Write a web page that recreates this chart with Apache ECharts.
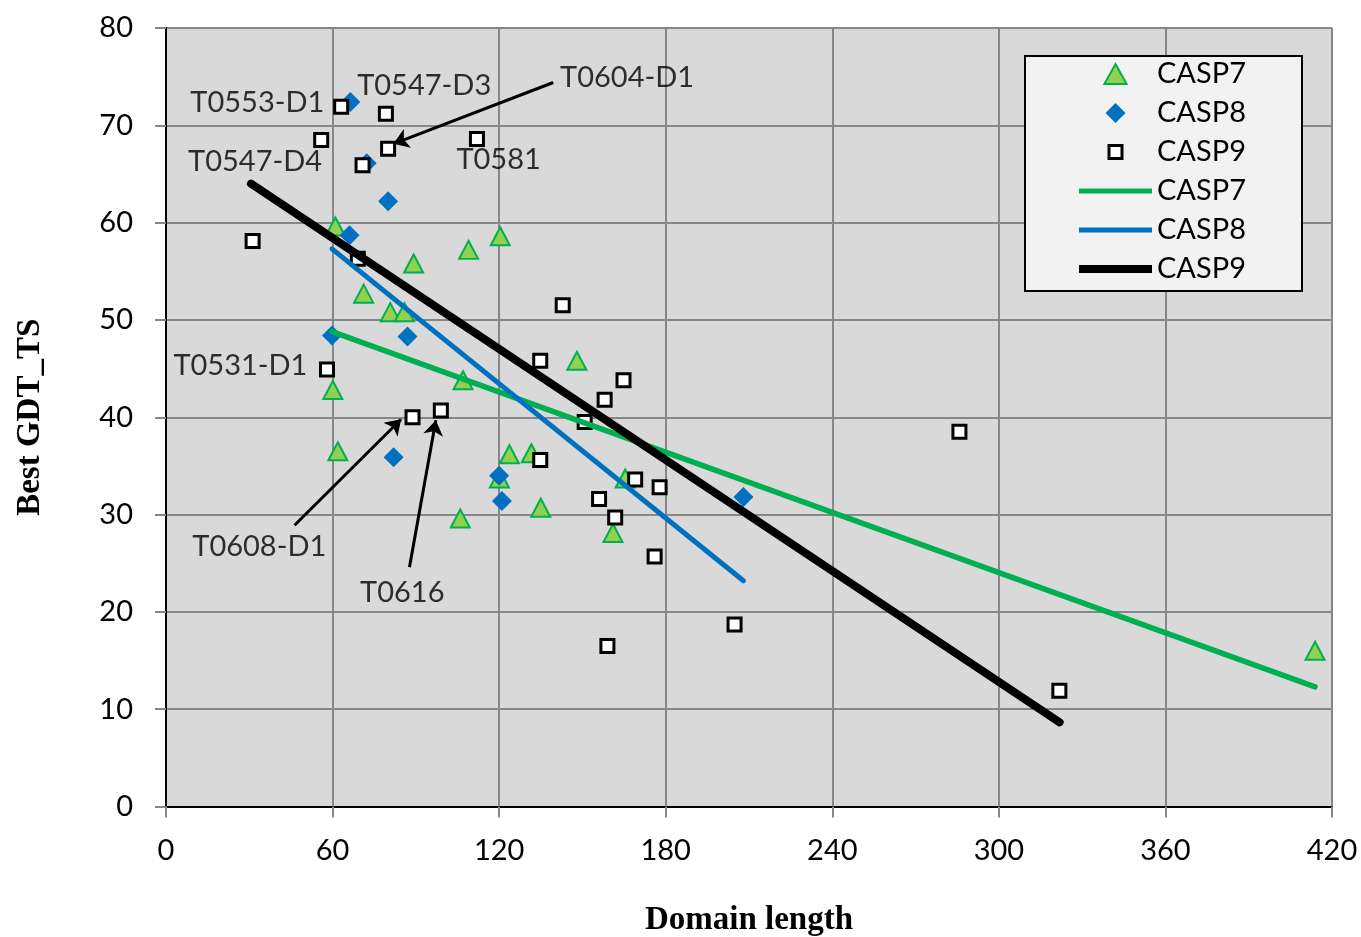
<!DOCTYPE html>
<html>
<head>
<meta charset="utf-8">
<script src="https://cdn.jsdelivr.net/npm/echarts@6/dist/echarts.min.js"></script>
<style>
  html, body { margin: 0; padding: 0; background: #fff; }
  #chart { width: 1361px; height: 937px; }
</style>
</head>
<body>
<div id="chart"></div>
<script>
// scatter points [domain length, best GDT_TS]
const casp7 = [
  [61, 59.6], [109, 57.2], [120.4, 58.6], [89.2, 55.8], [71.2, 52.7],
  [80.8, 50.8], [85.9, 50.8], [60.1, 42.8], [61.9, 36.5], [107, 43.8],
  [148, 45.8], [123.7, 36.2], [131.6, 36.3], [120.1, 33.7], [135, 30.7],
  [106, 29.6], [165.4, 33.7], [161, 28.1], [413.9, 16.0]
];
const casp8 = [
  [66.4, 72.4], [72.3, 66.1], [80, 62.2], [66.1, 58.7], [59.8, 48.4],
  [87, 48.3], [82, 35.9], [120, 34.0], [121, 31.4], [208, 31.8]
];
const casp9 = [
  [31.2, 58.1], [55.9, 68.5], [63.1, 71.9], [79.2, 71.2], [80, 67.6],
  [70.8, 65.9], [112, 68.6], [69.1, 56.3], [142.9, 51.5], [134.8, 45.8],
  [58, 44.9], [88.8, 40.0], [99, 40.7], [158, 41.8], [164.8, 43.8],
  [150.8, 39.5], [134.8, 35.6], [169, 33.6], [177.8, 32.8], [156, 31.6],
  [161.8, 29.7], [176, 25.7], [204.8, 18.7], [159, 16.5], [285.8, 38.5],
  [321.8, 11.9]
];

// trend lines (end points)
const fit7 = [[59.8, 48.8], [413.9, 12.3]];
const fit8 = [[59.8, 57.3], [208.0, 23.2]];
const fit9 = [[30.6, 64.0], [321.9, 8.65]];

// target labels [x, y, text] and arrows [from, to]
const labels = [
  [32.9, 72.3, 'T0553-D1'],
  [93.0, 74.1, 'T0547-D3'],
  [166.1, 74.9, 'T0604-D1'],
  [32.1, 66.3, 'T0547-D4'],
  [119.8, 66.5, 'T0581'],
  [26.8, 45.3, 'T0531-D1'],
  [33.6, 26.7, 'T0608-D1'],
  [85.1, 22.0, 'T0616']
];
const arrows = [
  [[139.5, 74.4], [81.9, 68.1]],
  [[46.3, 28.9], [84.7, 39.8]],
  [[87.7, 24.6], [97.2, 39.7]]
];

const xTicks = {min: 0, max: 420, interval: 60};
const yTicks = {min: 0, max: 80, interval: 10};

const font = 'Lato';
const gray = '#878787';

const myChart = echarts.init(document.getElementById('chart'));

const axisCommon = {
  type: 'value',
  axisLine: {show: true, lineStyle: {color: gray, width: 2}},
  axisTick: {show: true, length: 11, lineStyle: {color: gray, width: 2}},
  splitLine: {show: true, lineStyle: {color: gray, width: 2}},
  axisLabel: {color: '#000', fontFamily: font, fontSize: 29},
  nameTextStyle: {fontFamily: 'Liberation Serif', fontWeight: 'bold', fontSize: 33, color: '#000'}
};

// legend icons: moveTo points fix the icon box so the marks keep their size
const lineIcon = h => 'path://M0,0M73,20M0,' + (10 - h / 2) + 'h73v' + h + 'h-73z';

const option = {
  backgroundColor: '#fff',
  animation: false,
  grid: {
    left: 166, top: 28, right: 29, bottom: 130.5,
    show: true, backgroundColor: '#d9d9d9', borderWidth: 0,
    outerBoundsMode: 'none', containLabel: false
  },
  xAxis: [
    Object.assign({}, axisCommon, {
      min: xTicks.min, max: xTicks.max, interval: xTicks.interval,
      name: 'Domain length', nameLocation: 'middle', nameGap: 97,
      axisLabel: Object.assign({}, axisCommon.axisLabel, {margin: 30})
    }),
    {
      type: 'value', position: 'top', min: xTicks.min, max: xTicks.max,
      axisLine: {show: true, lineStyle: {color: '#000', width: 2}},
      axisTick: {show: false}, axisLabel: {show: false}, splitLine: {show: false}
    }
  ],
  yAxis: [
    Object.assign({}, axisCommon, {
      min: yTicks.min, max: yTicks.max, interval: yTicks.interval,
      name: 'Best GDT_TS', nameLocation: 'middle', nameGap: 119,
      axisLabel: Object.assign({}, axisCommon.axisLabel, {margin: 33})
    }),
    {
      type: 'value', position: 'right', min: yTicks.min, max: yTicks.max,
      axisLine: {show: true, lineStyle: {color: '#000', width: 2}},
      axisTick: {show: false}, axisLabel: {show: false}, splitLine: {show: false}
    }
  ],
  legend: {
    orient: 'vertical',
    left: 1079, top: 59,
    padding: 0,
    itemWidth: 73, itemHeight: 20, itemGap: 9,
    textStyle: {fontFamily: font, fontSize: 29, color: '#000', lineHeight: 30},
    formatter: name => name.split(' ')[0],
    selectedMode: false,
    z: 10,
    data: [
      {name: 'CASP7', icon: 'path://M10,0L20,18L0,18Z',
        itemStyle: {color: '#92D050', borderColor: '#00B050', borderWidth: 2}},
      {name: 'CASP8', icon: 'path://M10,0L20,10L10,20L0,10Z',
        itemStyle: {color: '#0070C0', borderWidth: 0}},
      {name: 'CASP9', icon: 'path://M0,0M20,20M3.5,3.5L16.5,3.5L16.5,16.5L3.5,16.5Z',
        itemStyle: {color: '#fff', borderColor: '#000', borderWidth: 3}},
      {name: 'CASP7 fit', icon: lineIcon(5), itemStyle: {color: '#00B050', borderWidth: 0}},
      {name: 'CASP8 fit', icon: lineIcon(5), itemStyle: {color: '#0070C0', borderWidth: 0}},
      {name: 'CASP9 fit', icon: lineIcon(8), itemStyle: {color: '#000', borderWidth: 0}}
    ]
  },
  graphic: [{
    type: 'rect', left: 1024, top: 55, z: 5,
    shape: {width: 277, height: 235},
    style: {fill: '#f2f2f2', stroke: '#000', lineWidth: 2}
  }],
  series: [
    {
      name: 'CASP7', type: 'scatter', symbol: 'triangle', symbolSize: [19, 18],
      itemStyle: {color: '#92D050', borderColor: '#00B050', borderWidth: 2, opacity: 1},
      data: casp7
    },
    {
      name: 'CASP8', type: 'scatter', symbol: 'diamond', symbolSize: 20,
      itemStyle: {color: '#0070C0', opacity: 1},
      data: casp8
    },
    {
      name: 'CASP9', type: 'scatter', symbol: 'rect', symbolSize: 13,
      itemStyle: {color: '#fff', borderColor: '#000', borderWidth: 3, opacity: 1},
      data: casp9
    },
    {
      name: 'CASP7 fit', type: 'line', symbol: 'none', z: 3,
      lineStyle: {color: '#00B050', width: 5.5, cap: 'round'},
      itemStyle: {color: '#00B050'},
      data: fit7
    },
    {
      name: 'CASP8 fit', type: 'line', symbol: 'none', z: 3,
      lineStyle: {color: '#0070C0', width: 5, cap: 'round'},
      itemStyle: {color: '#0070C0'},
      data: fit8
    },
    {
      name: 'CASP9 fit', type: 'line', symbol: 'none', z: 3,
      lineStyle: {color: '#000', width: 8, cap: 'round'},
      itemStyle: {color: '#000'},
      data: fit9
    },
    {
      name: 'labels', type: 'scatter', symbol: 'circle', symbolSize: 1, z: 4,
      itemStyle: {color: 'rgba(0,0,0,0)'},
      label: {
        show: true, position: 'inside', color: '#000',
        fontFamily: font, fontSize: 29,
        formatter: p => p.value[2]
      },
      data: labels,
      markLine: {
        silent: true,
        symbol: ['none', 'arrow'],
        symbolSize: 15,
        label: {show: false},
        itemStyle: {color: '#000'},
        lineStyle: {color: '#000', width: 3, type: 'solid', opacity: 1},
        data: arrows.map(a => [{coord: a[0]}, {coord: a[1]}])
      }
    }
  ]
};

myChart.setOption(option);
</script>
</body>
</html>
